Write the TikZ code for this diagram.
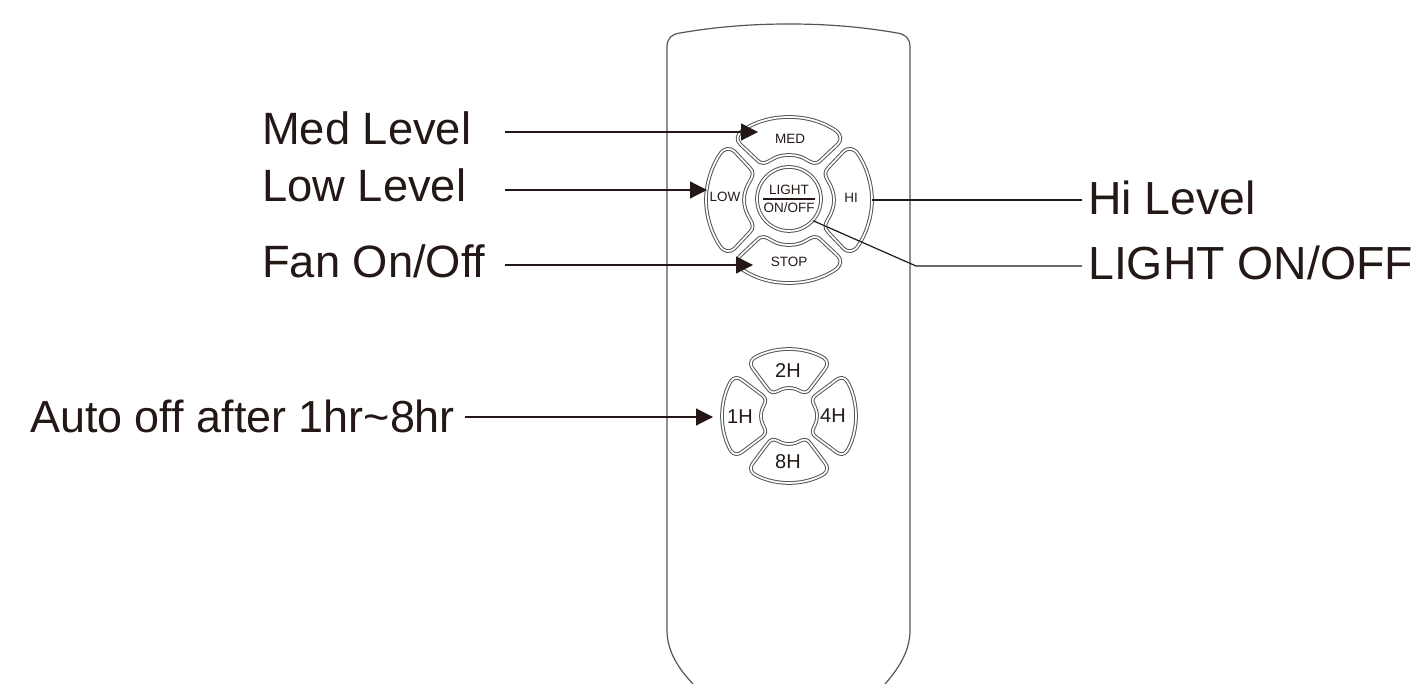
\documentclass[tikz,border=0pt]{standalone}
\usepackage{fontspec}
\setmainfont[Ligatures=NoCommon]{Liberation Sans}
\usetikzlibrary{arrows.meta}
\usetikzlibrary{calc}
\definecolor{ink}{HTML}{231815}
\definecolor{rim}{HTML}{55565A}
\tikzset{
    every node/.style={text=ink, inner sep=0pt},
    caption/.style={anchor=base west, font=\fontsize{45.3}{54}\selectfont},
    autocaption/.style={anchor=base west, font=\fontsize{44.9}{54}\selectfont},
    sidecaption/.style={anchor=base west, font=\fontsize{46.4}{54}\selectfont},
    keytext/.style={font=\fontsize{13.5}{15}\selectfont},
    hourtext/.style={font=\fontsize{20}{24}\selectfont},
    keyline/.style={draw=rim, line width=1pt, double=white, double distance=1.7pt},
    pointer/.style={draw=ink, line width=1.2pt, -{Triangle[length=17pt, width=17pt]}},
    leader/.style={draw=ink, line width=1.2pt},
    bigkey/.pic={
        \path[keyline] (0,-83) .. controls (-18,-83) and (-34,-78) .. (-46,-70)
            .. controls (-52,-66) and (-53,-60) .. (-49,-56) -- (-32,-40)
            .. controls (-27,-35) and (-23,-37) .. (-18,-40)
            .. controls (-12,-44) and (-6,-45) .. (0,-45)
            .. controls (6,-45) and (12,-44) .. (18,-40)
            .. controls (23,-37) and (27,-35) .. (32,-40) -- (49,-56)
            .. controls (53,-60) and (52,-66) .. (46,-70)
            .. controls (34,-78) and (18,-83) .. (0,-83) -- cycle;
    },
    sidekey/.pic={
        \path[keyline] (-83,0) .. controls (-83,-18) and (-76,-36) .. (-69,-46)
            .. controls (-65,-52) and (-59,-53) .. (-54,-48) -- (-39,-32)
            .. controls (-35,-28) and (-36,-24) .. (-39,-19)
            .. controls (-43,-13) and (-45,-6) .. (-45,0)
            .. controls (-45,6) and (-43,13) .. (-39,19)
            .. controls (-36,24) and (-35,28) .. (-39,32) -- (-54,48)
            .. controls (-59,53) and (-65,52) .. (-69,46)
            .. controls (-76,36) and (-83,18) .. (-83,0) -- cycle;
    },
    smallkey/.pic={
        \path[keyline] (0,-67) .. controls (-14,-67) and (-27,-63) .. (-35,-58)
            .. controls (-39,-55) and (-39,-51) .. (-36,-47) -- (-21,-27)
            .. controls (-18,-23) and (-15,-23) .. (-11,-25)
            .. controls (-7,-27) and (-4,-28) .. (0,-28)
            .. controls (4,-28) and (7,-27) .. (11,-25)
            .. controls (15,-23) and (18,-23) .. (21,-27) -- (36,-47)
            .. controls (39,-51) and (39,-55) .. (35,-58)
            .. controls (27,-63) and (14,-67) .. (0,-67) -- cycle;
    }
}

\begin{document}
\begin{tikzpicture}[x=1pt, y=-1pt]
    \useasboundingbox (0,0) rectangle (1411,684);

    % Remote body
    \draw[draw=rim, line width=1.2pt] (693,684) .. controls (677,667) and (667,650) .. (667,630)
        -- (667,47) .. controls (667,38) and (672,34) .. (680,33)
        .. controls (715,27) and (750,24) .. (789,24)
        .. controls (828,24) and (863,27) .. (897,33)
        .. controls (905,34) and (910,38) .. (910,47)
        -- (910,630) .. controls (910,650) and (900,667) .. (885,684);

    % Upper keys
    \pic at (789,200) {bigkey};
    \pic at (789,200) {sidekey};
    \pic[rotate=180] at (789,200) {bigkey};
    \pic[rotate=180] at (789,200) {sidekey};
    \node[circle, keyline, minimum size=64pt] (lightkey) at (789,199) {};
    \node[keytext] (medkey) at (790,139) {MED};
    \node[keytext] (lowkey) at (725,197) {LOW};
    \node[keytext] (hikey) at (851,198) {HI};
    \node[keytext] (stopkey) at (789,262) {STOP};
    \node[keytext] (lighttext) at (789,190) {LIGHT};
    \node[keytext] (ontext) at (789,208) {ON/OFF};
    \draw[leader] (ontext.south west |- lightkey) -- (ontext.south east |- lightkey);

    % Lower keys
    \pic at (789,416) {smallkey};
    \pic[rotate=90] at (789,416) {smallkey};
    \pic[rotate=180] at (789,416) {smallkey};
    \pic[rotate=270] at (789,416) {smallkey};
    \node[hourtext] (twokey) at (788,371) {2H};
    \node[hourtext] (onekey) at (740,417) {1H};
    \node[hourtext] (fourkey) at (833,416) {4H};
    \node[hourtext] (eightkey) at (788,462) {8H};

    % Captions
    \node[caption] (medlabel) at (262,145) {Med Level};
    \node[caption] (lowlabel) at (262,202) {Low Level};
    \node[caption] (fanlabel) at (262,278) {Fan On/Off};
    \node[autocaption] (autolabel) at (30,432) {Auto off after 1hr\textasciitilde 8hr};
    \node[sidecaption] (hilabel) at (1088,215) {Hi Level};
    \node[sidecaption] (lightlabel) at (1088,280) {LIGHT ON/OFF};

    \coordinate (medtip) at (758,132);
    \coordinate (lowtip) at (707,190);
    \coordinate (fantip) at (753,265);
    \coordinate (autotip) at (713,417);
    \coordinate (hiend) at (1082,200);
    \coordinate (lightbend) at (916,266);
    \coordinate (lightend) at (1082,266);

    % Callouts
    \draw[pointer, shorten <=34pt] (medlabel.east |- medtip) -- (medtip);
    \draw[pointer, shorten <=39pt] (lowlabel.east |- lowtip) -- (lowtip);
    \draw[pointer, shorten <=19pt] (fanlabel.east |- fantip) -- (fantip);
    \draw[pointer, shorten <=10pt] (autolabel.east |- autotip) -- (autotip);
    \draw[leader, shorten <=14pt] (hikey.east |- hiend) -- (hiend);
    \draw[leader] (lightkey.-42) -- (lightbend) -- (lightend);
\end{tikzpicture}
\end{document}
